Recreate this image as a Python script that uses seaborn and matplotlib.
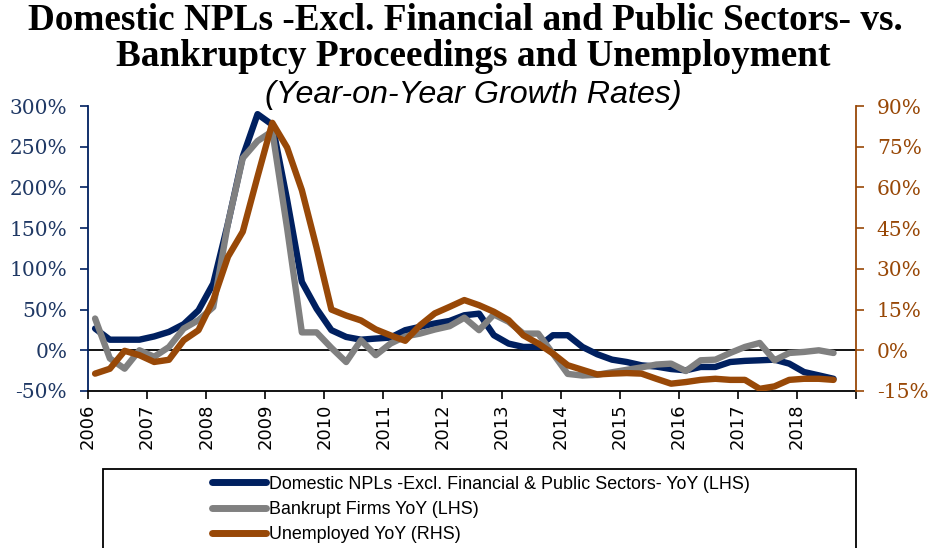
import numpy as np
import pandas as pd
import matplotlib
matplotlib.use("Agg")
import matplotlib.pyplot as plt
from matplotlib.patches import Rectangle
import seaborn as sns

# ---------------- data (quarterly, 2006Q1 - 2018Q3) ----------------
quarters = pd.period_range("2006Q1", "2018Q3", freq="Q")

npl_yoy = [26.7, 13, 13, 13, 17, 22.6, 32, 49, 82, 156, 238, 290, 277,
           185, 84, 51, 24.7, 16.4, 13, 14.4, 15.6, 24.7, 28.8, 32.9, 36,
           43, 45, 18.5, 8.2, 4.1, 4.1, 18.5, 18.5, 4.1, -4.9, -11.5, -14.4,
           -18.5, -20, -23, -24.6, -20.5, -20.5, -14.4, -13, -12.3, -11.5,
           -16.4, -26.7, -30.8, -35]

bankrupt_yoy = [39, -10, -22.6, 0, -8, 4, 26.7, 37, 53, 156, 236, 257, 269,
                150, 22, 22, 3, -14.4, 12.3, -6, 8.2, 17, 20.5, 25.5, 29.6,
                40, 24.7, 44, 35, 20.5, 20.5, -4, -29, -31, -30, -27, -24,
                -21, -17.5, -16.4, -25.5, -12.3, -11.5, -3.3, 4.1, 9, -12.3,
                -3.3, -2, 0, -3.3]

unemployed_yoy = [-8.6, -6.8, -0.2, -1.8, -4.3, -3.5, 3.7, 7.4, 18.5, 34.5,
                  43.7, 64, 83.8, 74.7, 59, 37.7, 15, 12.8, 11, 7.7, 5.5, 3.5,
                  9.2, 13.6, 16, 18.5, 16.6, 14.2, 11.1, 5.5, 2.5, -1.2, -5.5,
                  -7.2, -8.9, -8.6, -8.4, -8.6, -10.5, -12.3, -11.7, -10.9,
                  -10.5, -10.9, -10.9, -14.2, -13.3, -10.9, -10.5, -10.5, -10.9]

series_labels = ["Domestic NPLs -Excl. Financial & Public Sectors- YoY (LHS)",
                 "Bankrupt Firms YoY (LHS)",
                 "Unemployed YoY (RHS)"]

year_ticks = list(range(2006, 2019))
left_ticks = [-50, 0, 50, 100, 150, 200, 250, 300]
right_ticks = [-15, 0, 15, 30, 45, 60, 75, 90]

title_lines = ["Domestic NPLs -Excl. Financial and Public Sectors- vs.",
               "Bankruptcy Proceedings and Unemployment"]
subtitle = "(Year-on-Year Growth Rates)"

# ---------------- styling ----------------
NAVY = "#002060"
GRAY = "#808080"
BROWN = "#984807"
NAVY_TXT = "#1F3864"

sns.set_style("white")
plt.rcParams['font.family'] = ['DejaVu Sans']
plt.rcParams['text.color'] = 'black'
plt.rcParams['axes.labelcolor'] = 'black'

W, H = 930, 548
fig = plt.figure(figsize=(W / 100, H / 100), dpi=100)
ax = fig.add_axes([88 / W, 1 - 391 / H, (856 - 88) / W, (391 - 106) / H])
ax2 = ax.twinx()

xpos = quarters.year + (quarters.quarter - 1) / 4 + 0.12
df = pd.DataFrame({"date": xpos, "npl": npl_yoy, "bankrupt": bankrupt_yoy,
                   "unemployed": unemployed_yoy})

ax.axhline(0, color="black", lw=1.3, zorder=1)
sns.lineplot(data=df, x="date", y="npl", ax=ax, color=NAVY, lw=4.6,
             label=series_labels[0], legend=False, zorder=3)
sns.lineplot(data=df, x="date", y="bankrupt", ax=ax, color=GRAY, lw=4.6,
             label=series_labels[1], legend=False, zorder=4)
sns.lineplot(data=df, x="date", y="unemployed", ax=ax2, color=BROWN, lw=4.6,
             label=series_labels[2], legend=False, zorder=5)
for ln in ax.lines + ax2.lines:
    ln.set_solid_capstyle("round")
    ln.set_solid_joinstyle("round")

ax.set_xlim(2006, 2019)
ax.set_ylim(-50, 300)
ax2.set_ylim(-15, 90)
ax.set_xlabel("")
ax.set_ylabel("")
ax2.set_ylabel("")

ax.set_xticks(year_ticks + [2019])
ax.set_xticklabels([str(y) for y in year_ticks] + [""], rotation=90,
                   fontsize=13, color="black", family="DejaVu Sans")
ax.set_yticks(left_ticks)
ax.set_yticklabels([f"{v}%" for v in left_ticks], fontsize=14.5,
                   color=NAVY_TXT, family="DejaVu Serif")
ax2.set_yticks(right_ticks)
ax2.set_yticklabels([f"{v}%" for v in right_ticks], fontsize=14.5,
                    color=BROWN, family="DejaVu Serif")

ax.tick_params(axis="x", bottom=True, direction="out", length=6, width=1.2,
               color="black", pad=3)
ax.tick_params(axis="y", left=True, direction="out", length=6, width=1.2,
               color=NAVY, pad=9)
ax2.tick_params(axis="y", right=True, direction="out", length=6, width=1.2,
                color=BROWN, pad=9)

for s in ["top", "right"]:
    ax.spines[s].set_visible(False)
for s in ["top", "left", "bottom"]:
    ax2.spines[s].set_visible(False)
ax.spines["left"].set_color(NAVY)
ax.spines["left"].set_linewidth(1.3)
ax.spines["bottom"].set_color("black")
ax.spines["bottom"].set_linewidth(1.3)
ax2.spines["right"].set_color(BROWN)
ax2.spines["right"].set_linewidth(1.3)

# ---------------- titles ----------------
fig.text(465 / W, 1 - 20 / H, title_lines[0], ha="center", va="center",
         fontsize=26.8, fontweight="bold", family="Liberation Serif",
         color="black")
fig.text(473 / W, 1 - 57 / H, title_lines[1], ha="center", va="center",
         fontsize=26.8, fontweight="bold", family="Liberation Serif",
         color="black")
fig.text(473 / W, 1 - 95 / H, subtitle, ha="center", va="center",
         fontsize=23.2, style="italic", family="Liberation Sans",
         color="black")

# ---------------- legend ----------------
handles = ax.lines[1:] + ax2.lines
handles = [h for h in handles if h.get_label() in series_labels]
leg = fig.legend(handles, series_labels, loc="upper left",
                 bbox_to_anchor=(199 / W, 1 - 463 / H), frameon=False,
                 prop={"family": "Liberation Sans", "size": 12.9},
                 handlelength=3.05, handletextpad=0.15, labelspacing=0.46,
                 borderpad=0.2)
for t in leg.get_texts():
    t.set_color("black")
for lh in leg.get_lines():
    lh.set_linewidth(5)
    lh.set_solid_capstyle("round")
fig.add_artist(Rectangle((103 / W, -0.1), (856 - 103) / W, (1 - 469 / H) + 0.1,
                         transform=fig.transFigure, fill=False,
                         edgecolor="black", lw=1.3))

fig.savefig("out.png", dpi=100)
